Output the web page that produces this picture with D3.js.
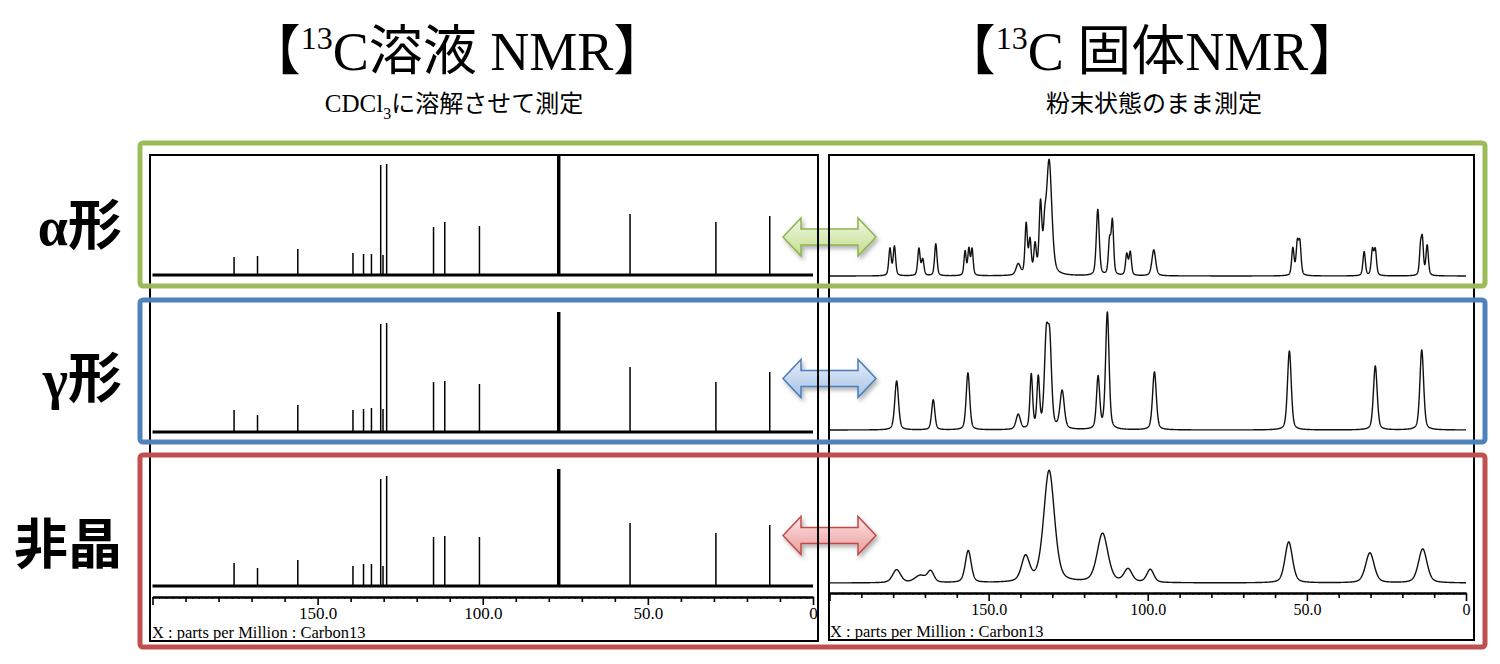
<!DOCTYPE html>
<html>
<head>
<meta charset="utf-8">
<script src="https://cdn.jsdelivr.net/npm/d3@7"></script>
<style>
  body { margin: 0; background: #fff; }
  svg { display: block; }
</style>
</head>
<body>
<script>
// 13C NMR comparison: solution (left) vs solid state (right), three crystal forms

// ---- data ----
const forms = ['α形', 'γ形', '非晶'];
const formColors = ['#9bbb59', '#4f81bd', '#c0504d'];

// solution spectra: stick peaks (ppm) and heights per form
const solutionPpm = [175.3, 168.2, 156.0, 139.3, 136.1, 133.7, 130.9, 130.2, 129.1,
  114.9, 111.5, 101.0, 77.3, 77.0, 76.7, 55.4, 29.4, 13.1];
const solutionAlpha = [18, 19, 26, 22, 21, 21, 110, 20, 111, 48, 53, 49, 135, 135, 135, 61, 53, 59];
const solutionGamma = [22, 17, 27, 22, 23, 24, 108, 23, 109, 50, 51, 48, 120, 120, 120, 65, 50, 60];
const solutionAmorphous = [23, 18, 26, 20, 22, 22, 107, 20, 110, 49, 50, 49, 117, 117, 117, 63, 53, 61];

// solid state spectra: [ppm, height, half width (ppm)]
const solidAlpha = [
  [181.0, 27, 0.45], [179.6, 29, 0.45], [171.9, 27, 0.45], [170.7, 16, 0.45],
  [166.6, 32, 0.45], [157.4, 24, 0.4], [156.2, 26, 0.4], [155.2, 26, 0.4],
  [140.7, 11, 0.8], [138.2, 50, 0.45], [137.0, 33, 0.45], [135.4, 28, 0.45],
  [133.7, 68, 0.5], [132.4, 30, 0.5], [131.0, 114, 1.0], [115.7, 66, 0.55],
  [112.0, 33, 0.45], [111.1, 53, 0.45], [106.6, 21, 0.45], [105.5, 23, 0.45],
  [98.1, 26, 0.7], [54.4, 27, 0.45], [53.0, 31, 0.45], [52.2, 31, 0.45],
  [32.0, 24, 0.45], [29.4, 25, 0.45], [28.5, 25, 0.45],
  [14.3, 26, 0.4], [13.7, 33, 0.4], [12.2, 30, 0.45]
];
const solidGamma = [
  [178.9, 49, 0.7], [167.4, 30, 0.6], [156.5, 57, 0.65], [140.7, 15, 0.8],
  [136.6, 54, 0.5], [134.4, 50, 0.5], [131.9, 84, 0.7], [130.8, 81, 0.7],
  [126.9, 38, 0.8], [115.6, 52, 0.6], [112.7, 117, 0.65], [97.9, 58, 0.7],
  [55.5, 79, 0.7], [28.5, 64, 0.7], [13.9, 80, 0.7]
];
const solidAmorphous = [
  [178.9, 13, 1.5], [171.5, 7, 2.0], [168.2, 11, 1.2], [156.4, 32, 1.1],
  [138.4, 25, 1.5], [131.0, 112, 2.0], [114.2, 49, 2.0], [106.2, 13, 1.5],
  [99.2, 13, 1.3], [55.7, 41, 1.4], [30.2, 30, 1.6], [13.6, 34, 1.6]
];

const axisLabelTicks = [150, 100, 50, 0];
const axisTitle = 'X : parts per Million : Carbon13';

// ---- layout ----
const W = 1500, H = 664;
const svg = d3.select('body').append('svg')
  .attr('width', W)
  .attr('height', H)
  .attr('viewBox', `0 0 ${W} ${H}`);

const defs = svg.append('defs');

const leftFrame = { x: 150, y: 155, w: 668, h: 486 };
const rightFrame = { x: 829, y: 155, w: 645, h: 485 };

const xLeft = d3.scaleLinear().domain([200, 0]).range([152.5, 813]);
const xRight = d3.scaleLinear().domain([200, 0]).range([829.5, 1466]);

const leftBaselines = [275, 432, 586];
const rightBaselines = [276, 430, 583];

const serif = '"Liberation Serif", "Times New Roman", "Noto Sans CJK JP", serif';
const jpSans = '"Noto Sans CJK JP", "Noto Sans", sans-serif';

// clip paths for the two spectrum frames
[['clipLeft', leftFrame], ['clipRight', rightFrame]].forEach(([id, f]) => {
  defs.append('clipPath').attr('id', id)
    .append('rect').attr('x', f.x).attr('y', f.y).attr('width', f.w).attr('height', f.h);
});

// ---- titles ----
function title(cx, parts) {
  const t = svg.append('text')
    .attr('x', cx).attr('y', 70)
    .attr('text-anchor', 'middle')
    .attr('font-family', serif)
    .attr('font-size', 54)
    .attr('fill', '#000');
  parts.forEach(p => {
    const s = t.append('tspan').text(p.text);
    if (p.sup) s.attr('font-size', 32).attr('dy', -21);
    if (p.after) s.attr('dy', 21);
    if (p.font) s.attr('font-family', p.font);
  });
}

title(457, [
  { text: '【', font: jpSans },
  { text: '13', sup: true },
  { text: 'C', after: true },
  { text: '溶液', font: jpSans },
  { text: ' NMR' },
  { text: '】', font: jpSans }
]);
title(1152, [
  { text: '【', font: jpSans },
  { text: '13', sup: true },
  { text: 'C ', after: true },
  { text: '固体', font: jpSans },
  { text: 'NMR' },
  { text: '】', font: jpSans }
]);

const sub1 = svg.append('text')
  .attr('x', 454).attr('y', 112)
  .attr('text-anchor', 'middle')
  .attr('font-size', 25)
  .attr('font-family', serif);
sub1.append('tspan').text('CDCl');
sub1.append('tspan').text('3').attr('font-size', 16).attr('dy', 7);
sub1.append('tspan').text('に溶解させて測定').attr('dy', -7).attr('font-family', jpSans).attr('font-size', 24);

svg.append('text')
  .attr('x', 1154).attr('y', 112)
  .attr('text-anchor', 'middle')
  .attr('font-size', 24)
  .attr('font-family', jpSans)
  .text('粉末状態のまま測定');

// ---- row labels ----
const labelBaselines = [245, 398, 564];
forms.forEach((f, i) => {
  svg.append('text')
    .attr('x', 122).attr('y', labelBaselines[i])
    .attr('text-anchor', 'end')
    .attr('font-family', serif)
    .attr('font-weight', 'bold')
    .attr('font-size', 54)
    .text(f);
});

// ---- frame backgrounds ----
[leftFrame, rightFrame].forEach(f => {
  svg.append('rect')
    .attr('x', f.x).attr('y', f.y).attr('width', f.w).attr('height', f.h)
    .attr('fill', '#fff');
});

// ---- solution spectra (sticks) ----
const leftG = svg.append('g').attr('clip-path', 'url(#clipLeft)');
[solutionAlpha, solutionGamma, solutionAmorphous].forEach((heights, i) => {
  const y = d3.scaleLinear().domain([0, 120]).range([leftBaselines[i], leftBaselines[i] - 120]);
  const row = leftG.append('g');
  row.append('line')
    .attr('x1', xLeft(200)).attr('x2', xLeft(0))
    .attr('y1', y(0)).attr('y2', y(0))
    .attr('stroke', '#000').attr('stroke-width', 3);
  row.selectAll('line.peak')
    .data(solutionPpm.map((p, k) => ({ ppm: p, h: heights[k] })))
    .join('line')
    .attr('class', 'peak')
    .attr('x1', d => xLeft(d.ppm)).attr('x2', d => xLeft(d.ppm))
    .attr('y1', y(0)).attr('y2', d => y(d.h))
    .attr('stroke', '#000').attr('stroke-width', 1.5);
});

// ---- solid state spectra (pseudo-Voigt line shapes from peak table) ----
const ppmGrid = d3.range(0, 4001).map(k => 200 - k * 0.05);
function lineShape(peaks, ppm) {
  let s = 0;
  peaks.forEach(([p, h, w]) => {
    const u = (ppm - p) / w;
    s += h * (0.4 / (1 + u * u) + 0.6 * Math.exp(-0.693 * u * u));
  });
  return s;
}

const rightG = svg.append('g').attr('clip-path', 'url(#clipRight)');
[solidAlpha, solidGamma, solidAmorphous].forEach((peaks, i) => {
  const y = d3.scaleLinear().domain([0, 120]).range([rightBaselines[i], rightBaselines[i] - 120]);
  const line = d3.line()
    .x(d => xRight(d))
    .y(d => y(lineShape(peaks, d)));
  rightG.append('path')
    .attr('d', line(ppmGrid))
    .attr('fill', 'none')
    .attr('stroke', '#111')
    .attr('stroke-width', 1.4)
    .attr('stroke-linejoin', 'round');
});

// ---- axes ----
function drawAxis(x, yPos, fontSize, pad) {
  const g = svg.append('g').attr('transform', `translate(0,${yPos})`);
  // fine ticks, no labels
  g.call(d3.axisBottom(x).tickValues(d3.range(0, 201, 2)).tickSize(2).tickSizeOuter(0));
  g.selectAll('.tick text').remove();
  g.selectAll('.tick line').attr('stroke-width', 1);
  // 10 ppm ticks with labels
  const main = svg.append('g').attr('transform', `translate(0,${yPos})`);
  main.call(d3.axisBottom(x)
    .tickValues(d3.range(0, 201, 10))
    .tickSize(5)
    .tickPadding(pad)
    .tickSizeOuter(0)
    .tickFormat(d => d === 0 ? '0' : d.toFixed(1)));
  main.attr('font-family', serif).attr('font-size', fontSize);
  main.selectAll('.tick')
    .filter(d => !axisLabelTicks.includes(d))
    .select('text').remove();
  main.selectAll('.tick line')
    .attr('y2', d => d % 50 === 0 ? 8 : 5)
    .attr('stroke-width', 1.6);
  main.selectAll('.tick text')
    .attr('font-family', serif)
    .attr('font-size', fontSize)
    .attr('fill', '#000');
  [g, main].forEach(s => s.select('.domain').attr('stroke-width', 2.2));
}
drawAxis(xLeft, 597, 17, 5);
drawAxis(xRight, 593, 16, 6);

svg.append('text').attr('x', 152).attr('y', 637.5)
  .attr('font-family', serif).attr('font-size', 16.5).text(axisTitle);
svg.append('text').attr('x', 830).attr('y', 637)
  .attr('font-family', serif).attr('font-size', 16.5).text(axisTitle);

// ---- double arrows ----
const arrowY = [237, 378.5, 535.5];
const arrowFills = [['#f1f8e4', '#c2de8b'], ['#e6eef9', '#a6c2e7'], ['#fce4e4', '#eb9a9a']];
const arrowStrokes = ['#8fb34f', '#4a7ebb', '#be4b48'];

const shadow = defs.append('filter').attr('id', 'arrowShadow')
  .attr('x', '-20%').attr('y', '-30%').attr('width', '150%').attr('height', '180%');
shadow.append('feDropShadow')
  .attr('dx', 2).attr('dy', 3).attr('stdDeviation', 2)
  .attr('flood-color', '#000').attr('flood-opacity', 0.3);

arrowFills.forEach((c, i) => {
  const gr = defs.append('linearGradient').attr('id', `arrowGrad${i}`)
    .attr('x1', 0).attr('y1', 0).attr('x2', 0).attr('y2', 1);
  gr.append('stop').attr('offset', '0%').attr('stop-color', c[0]);
  gr.append('stop').attr('offset', '100%').attr('stop-color', c[1]);
});

function doubleArrow(cx, cy, halfLen, headLen, headHalf, shaftHalf) {
  const p = d3.path();
  const l = cx - halfLen, r = cx + halfLen;
  p.moveTo(l, cy);
  p.lineTo(l + headLen, cy - headHalf);
  p.lineTo(l + headLen, cy - shaftHalf);
  p.lineTo(r - headLen, cy - shaftHalf);
  p.lineTo(r - headLen, cy - headHalf);
  p.lineTo(r, cy);
  p.lineTo(r - headLen, cy + headHalf);
  p.lineTo(r - headLen, cy + shaftHalf);
  p.lineTo(l + headLen, cy + shaftHalf);
  p.lineTo(l + headLen, cy + headHalf);
  p.closePath();
  return p.toString();
}

arrowY.forEach((cy, i) => {
  svg.append('path')
    .attr('d', doubleArrow(829.5, cy, 46.5, 18, 19, 8))
    .attr('fill', `url(#arrowGrad${i})`)
    .attr('stroke', arrowStrokes[i])
    .attr('stroke-width', 1.5)
    .attr('stroke-linejoin', 'miter')
    .attr('filter', 'url(#arrowShadow)');
});

// ---- frame outlines ----
[leftFrame, rightFrame].forEach(f => {
  svg.append('rect')
    .attr('x', f.x).attr('y', f.y).attr('width', f.w).attr('height', f.h)
    .attr('fill', 'none')
    .attr('stroke', '#000')
    .attr('stroke-width', 2);
});

// ---- coloured row boxes ----
const boxes = [[143, 286], [300, 442], [455, 647]];
boxes.forEach(([y0, y1], i) => {
  svg.append('rect')
    .attr('x', 140).attr('y', y0)
    .attr('width', 1485 - 140).attr('height', y1 - y0)
    .attr('rx', 3)
    .attr('fill', 'none')
    .attr('stroke', formColors[i])
    .attr('stroke-width', 5);
});
</script>
</body>
</html>
